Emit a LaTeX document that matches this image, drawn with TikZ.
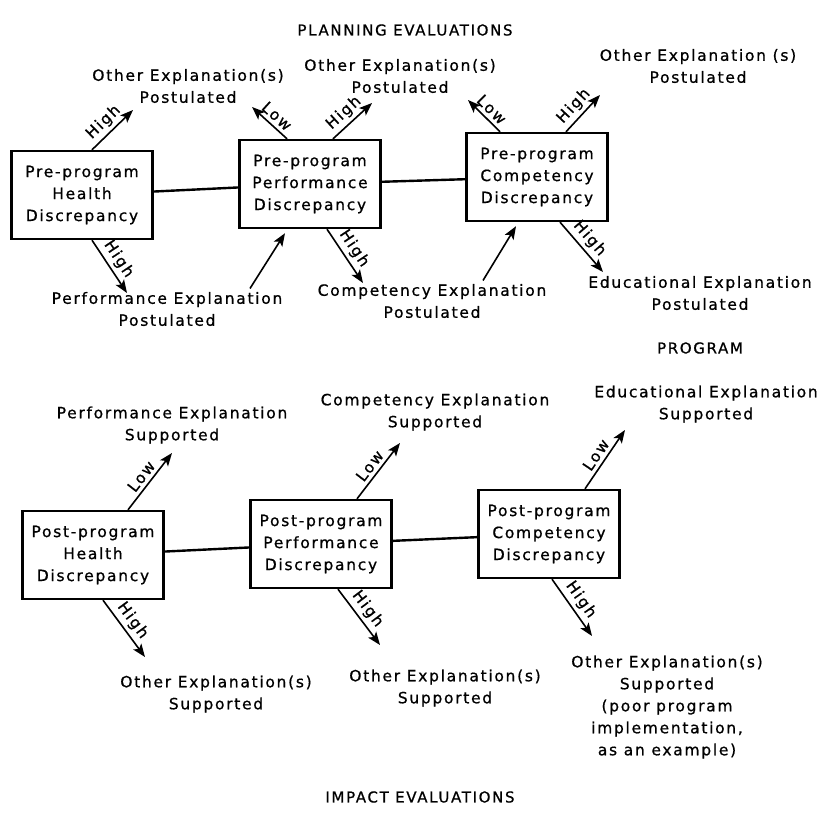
\documentclass[tikz,border=0pt]{standalone}
\usepackage{fontspec}
\setmainfont{DejaVu Sans}[LetterSpace=11,FakeBold=0.8]
\usetikzlibrary{
    arrows.meta,
    positioning
}
\newcommand{\diagtext}{\fontsize{15.5pt}{22pt}\selectfont}
\newcommand{\diagtitle}{\fontsize{15pt}{16pt}\selectfont}

\begin{document}
\begin{tikzpicture}[x=1pt,y=-1pt]
    \useasboundingbox (0,0) rectangle (821,819);

    % Styles for boxes, outcomes, arrows and arrow labels
    \tikzset{
        stage/.style={draw, line width=2.4pt, minimum width=141pt, minimum height=88pt, align=center, inner sep=1pt, font=\diagtext},
        outcome/.style={align=center, font=\diagtext},
        heading/.style={font=\diagtitle},
        flow/.style={-{Stealth[length=13pt,width=10pt,inset=3pt]}, line width=1.6pt},
        link/.style={line width=2.4pt},
        verdict/.style={sloped, above, pos=0.48, inner sep=3.5pt, font=\diagtext}
    };

    % Headings
    \node[heading] (plan) at (405,30) {PLANNING EVALUATIONS};
    \node[heading] (prog) at (700,348) {PROGRAM};
    \node[heading] (impact) at (420,797) {IMPACT EVALUATIONS};

    % Discrepancy boxes
    \node[stage] (preH) at (82,195) {Pre-program\\Health\\Discrepancy};
    \node[stage] (preP) at (310,184) {Pre-program\\Performance\\Discrepancy};
    \node[stage] (preC) at (537,177) {Pre-program\\Competency\\Discrepancy};
    \node[stage] (postH) at (93,555) {Post-program\\Health\\Discrepancy};
    \node[stage] (postP) at (321,544) {Post-program\\Performance\\Discrepancy};
    \node[stage] (postC) at (549,534) {Post-program\\Competency\\Discrepancy};

    % Explanations (planning)
    \node[outcome] (otherA) at (188,86) {Other Explanation(s)\\Postulated};
    \node[outcome] (otherB) at (400,76) {Other Explanation(s)\\Postulated};
    \node[outcome] (otherC) at (698,66) {Other Explanation (s)\\Postulated};
    \node[outcome] (perfPost) at (167,309) {Performance Explanation\\Postulated};
    \node[outcome] (compPost) at (432,301) {Competency Explanation\\Postulated};
    \node[outcome] (eduPost) at (700,293) {Educational Explanation\\Postulated};

    % Explanations (impact)
    \node[outcome] (perfSup) at (172,425) {Performance Explanation\\Supported};
    \node[outcome] (compSup) at (435,412) {Competency Explanation\\Supported};
    \node[outcome] (eduSup) at (706,404) {Educational Explanation\\Supported};
    \node[outcome] (otherD) at (216,694) {Other Explanation(s)\\Supported};
    \node[outcome] (otherE) at (445,688) {Other Explanation(s)\\Supported};
    \node[outcome] (otherF) at (667,707) {Other Explanation(s)\\Supported\\(poor program\\implementation,\\as an example)};

    % Arrow tips
    \coordinate (tipHu) at (133,110);
    \coordinate (tipHd) at (127,293);
    \coordinate (tipPl) at (252,107);
    \coordinate (tipPh) at (372,103);
    \coordinate (tipPd) at (363,283);
    \coordinate (tipCl) at (468,100);
    \coordinate (tipCh) at (600,95);
    \coordinate (tipCd) at (603,272);
    \coordinate (tipQu) at (172,453);
    \coordinate (tipQd) at (145,657);
    \coordinate (tipRu) at (400,443);
    \coordinate (tipRd) at (380,645);
    \coordinate (tipSu) at (625,430);
    \coordinate (tipSd) at (592,636);

    % Planning row
    \draw[link] (preH) -- (preP);
    \draw[link] (preP) -- (preC);
    \draw[flow] ([xshift=10pt]preH.north) -- node[verdict] {High} (tipHu);
    \draw[flow] ([xshift=10pt]preH.south) -- node[verdict] {High} (tipHd);
    \draw[flow] ([xshift=-23pt]preP.north) -- node[verdict] {Low} (tipPl);
    \draw[flow] ([xshift=23pt]preP.north) -- node[verdict] {High} (tipPh);
    \draw[flow] ([xshift=17pt]preP.south) -- node[verdict] {High} (tipPd);
    \draw[flow] ([xshift=83pt]perfPost.north) -- ([xshift=-25pt,yshift=-4pt]preP.south);
    \draw[flow] ([xshift=-37pt]preC.north) -- node[verdict] {Low} (tipCl);
    \draw[flow] ([xshift=29pt]preC.north) -- node[verdict] {High} (tipCh);
    \draw[flow] ([xshift=23pt]preC.south) -- node[verdict] {High} (tipCd);
    \draw[flow] ([xshift=51pt]compPost.north) -- ([xshift=-21pt,yshift=-4pt]preC.south);

    % Impact row
    \draw[link] (postH) -- (postP);
    \draw[link] (postP) -- (postC);
    \draw[flow] ([xshift=35pt]postH.north) -- node[verdict] {Low} (tipQu);
    \draw[flow] ([xshift=10pt]postH.south) -- node[verdict] {High} (tipQd);
    \draw[flow] ([xshift=36pt]postP.north) -- node[verdict] {Low} (tipRu);
    \draw[flow] ([xshift=17pt]postP.south) -- node[verdict] {High} (tipRd);
    \draw[flow] ([xshift=36pt]postC.north) -- node[verdict] {Low} (tipSu);
    \draw[flow] ([xshift=3pt]postC.south) -- node[verdict] {High} (tipSd);
\end{tikzpicture}
\end{document}
